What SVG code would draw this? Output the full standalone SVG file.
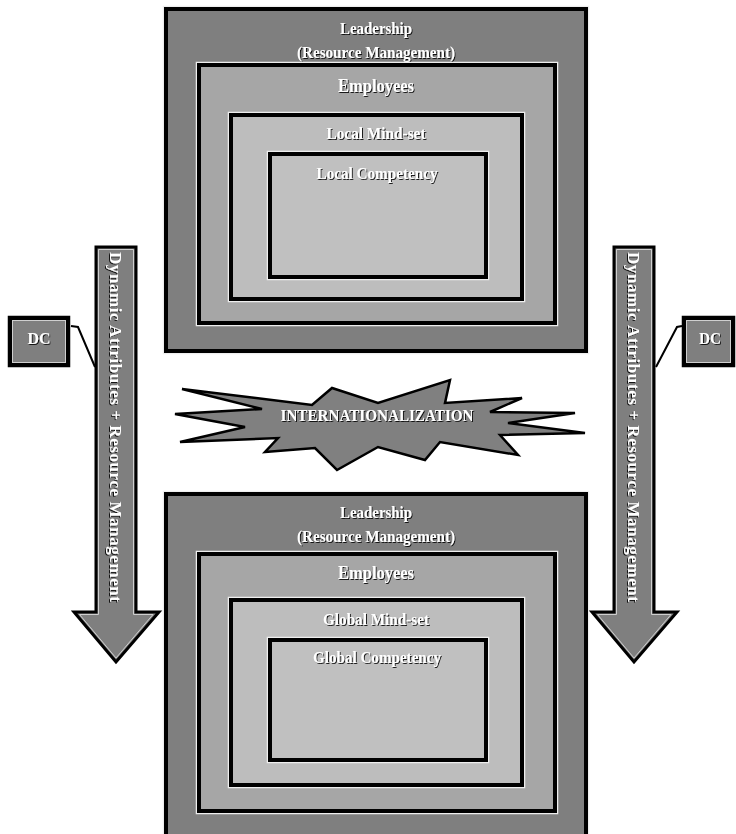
<svg xmlns="http://www.w3.org/2000/svg" width="736" height="834" viewBox="0 0 736 834">
<defs>
<filter id="sh" x="-10%" y="-30%" width="120%" height="160%">
<feDropShadow dx="1" dy="1" stdDeviation="0.7" flood-color="#000" flood-opacity="0.85"/>
</filter>
</defs>
<style>
.halo{fill:none;stroke:#eeeeee;stroke-width:6.5}
.edge{stroke:#000;stroke-width:4}
.f1{fill:#7f7f7f}
.f2{fill:#a6a6a6}
.f3{fill:#bdbdbd}
.f4{fill:#c0c0c0}
.t{font-family:"Liberation Serif","Times New Roman",serif;font-weight:bold;fill:#ffffff;text-anchor:middle;filter:url(#sh)}
.conn{fill:none;stroke:#000;stroke-width:2}
</style>
<rect width="736" height="834" fill="#ffffff"/>

<g id="top-leadership">
<rect class="halo" x="166" y="9" width="420" height="342"/>
<rect class="f1 edge" x="166" y="9" width="420" height="342"/>
<text class="t" x="376" y="34" font-size="16" textLength="72" lengthAdjust="spacingAndGlyphs">Leadership</text>
<text class="t" x="376" y="58" font-size="16" textLength="158" lengthAdjust="spacingAndGlyphs">(Resource Management)</text>
</g>
<g id="top-employees">
<rect class="halo" x="199" y="65" width="356" height="258"/>
<rect class="f2 edge" x="199" y="65" width="356" height="258"/>
<text class="t" x="376" y="92" font-size="18" textLength="76" lengthAdjust="spacingAndGlyphs">Employees</text>
</g>
<g id="top-mindset">
<rect class="halo" x="231" y="115" width="291" height="184"/>
<rect class="f3 edge" x="231" y="115" width="291" height="184"/>
<text class="t" x="376" y="139" font-size="16" textLength="99" lengthAdjust="spacingAndGlyphs">Local Mind-set</text>
</g>
<g id="top-competency">
<rect class="halo" x="270" y="154" width="216" height="123"/>
<rect class="f4 edge" x="270" y="154" width="216" height="123"/>
<text class="t" x="377" y="179" font-size="16" textLength="121" lengthAdjust="spacingAndGlyphs">Local Competency</text>
</g>

<g id="bottom-leadership">
<rect class="halo" x="166" y="494" width="420" height="350"/>
<rect class="f1 edge" x="166" y="494" width="420" height="350"/>
<text class="t" x="376" y="518" font-size="16" textLength="72" lengthAdjust="spacingAndGlyphs">Leadership</text>
<text class="t" x="376" y="542" font-size="16" textLength="158" lengthAdjust="spacingAndGlyphs">(Resource Management)</text>
</g>
<g id="bottom-employees">
<rect class="halo" x="199" y="554" width="356" height="257"/>
<rect class="f2 edge" x="199" y="554" width="356" height="257"/>
<text class="t" x="376" y="579" font-size="18" textLength="76" lengthAdjust="spacingAndGlyphs">Employees</text>
</g>
<g id="bottom-mindset">
<rect class="halo" x="231" y="600" width="291" height="185"/>
<rect class="f3 edge" x="231" y="600" width="291" height="185"/>
<text class="t" x="376" y="625" font-size="16" textLength="106" lengthAdjust="spacingAndGlyphs">Global Mind-set</text>
</g>
<g id="bottom-competency">
<rect class="halo" x="270" y="640" width="216" height="120"/>
<rect class="f4 edge" x="270" y="640" width="216" height="120"/>
<text class="t" x="377" y="663" font-size="16" textLength="128" lengthAdjust="spacingAndGlyphs">Global Competency</text>
</g>

<g id="internationalization">
<polygon points="182,389 312,405 332,388 378,403 450,380 445,403 522,398 490,412 575,413 508,423 585,433 500,435 518,455 440,442 425,460 378,447 337,470 315,448 265,452 278,438 180,442 245,427 175,414 262,409" fill="#808080" stroke="#000" stroke-width="2.5" stroke-linejoin="miter"/>
<text class="t" x="377" y="421" font-size="16" textLength="193" lengthAdjust="spacingAndGlyphs">INTERNATIONALIZATION</text>
</g>

<g id="left-arrow">
<path d="M96,247 H136 V612 H159 L116,662 L74,612 H96 Z" fill="#7f7f7f" stroke="#000" stroke-width="3"/>
<path d="M98.5,249.5 H133.5 V614.5 H153 L116,658 L79.5,614.5 H98.5 Z" fill="none" stroke="#cfcfcf" stroke-width="1"/>
<text class="t" font-size="17" transform="translate(116,427) rotate(90)" dominant-baseline="central" textLength="350" lengthAdjust="spacing">Dynamic Attributes + Resource Management</text>
</g>
<g id="right-arrow">
<path d="M614,247 H654 V612 H677 L634,662 L592,612 H614 Z" fill="#7f7f7f" stroke="#000" stroke-width="3"/>
<path d="M616.5,249.5 H651.5 V614.5 H671 L634,658 L597.5,614.5 H616.5 Z" fill="none" stroke="#cfcfcf" stroke-width="1"/>
<text class="t" font-size="17" transform="translate(634,427) rotate(90)" dominant-baseline="central" textLength="350" lengthAdjust="spacing">Dynamic Attributes + Resource Management</text>
</g>

<g id="dc-left">
<rect x="10" y="318" width="58" height="47" fill="#7f7f7f" stroke="#000" stroke-width="4.5"/>
<rect x="12.5" y="320.5" width="53" height="42" fill="none" stroke="#cfcfcf" stroke-width="1"/>
<text class="t" x="39" y="344" font-size="17" textLength="23" lengthAdjust="spacingAndGlyphs">DC</text>
</g>
<g id="dc-right">
<rect x="684" y="318" width="49" height="47" fill="#7f7f7f" stroke="#000" stroke-width="4.5"/>
<rect x="686.5" y="320.5" width="44" height="42" fill="none" stroke="#cfcfcf" stroke-width="1"/>
<text class="t" x="710" y="344" font-size="17" textLength="22" lengthAdjust="spacingAndGlyphs">DC</text>
</g>

<g id="connectors">
<path class="conn" d="M71,326 L78,327 L95,367"/>
<path class="conn" d="M682,326 L677,327 L656,367"/>
</g>
</svg>
